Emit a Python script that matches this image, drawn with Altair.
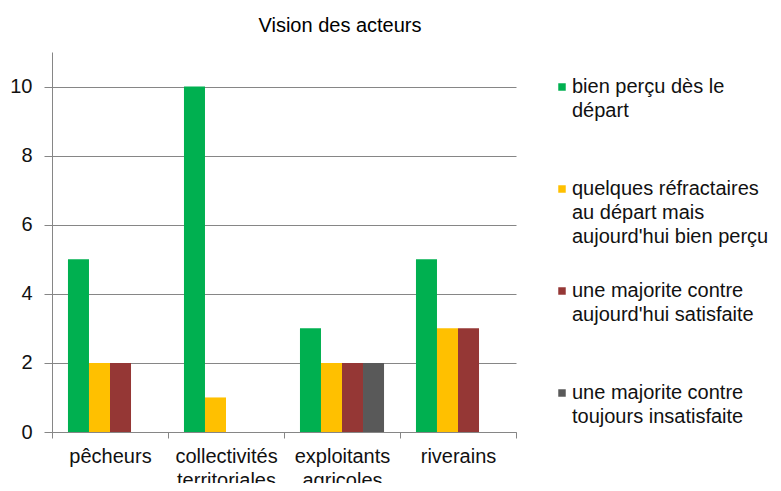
import json
import altair as alt
import pandas as pd

categories = ["pêcheurs", "collectivités territoriales", "exploitants agricoles", "riverains"]
series = [
    "bien perçu dès le départ",
    "quelques réfractaires au départ mais aujourd'hui bien perçu",
    "une majorite contre aujourd'hui satisfaite",
    "une majorite contre toujours insatisfaite",
]
series_lines = [
    ["bien perçu dès le", "départ"],
    ["quelques réfractaires", "au départ mais", "aujourd'hui bien perçu"],
    ["une majorite contre", "aujourd'hui satisfaite"],
    ["une majorite contre", "toujours insatisfaite"],
]
bien_percu = [5, 10, 3, 5]
refractaires = [2, 1, 2, 3]
contre_satisfaite = [2, 0, 2, 3]
contre_insatisfaite = [0, 0, 2, 0]
colors = ["#00B050", "#FFC000", "#953735", "#595959"]
y_ticks = [0, 2, 4, 6, 8, 10]

rows = []
for s, vals in zip(series, [bien_percu, refractaires, contre_satisfaite, contre_insatisfaite]):
    for c, v in zip(categories, vals):
        rows.append({"acteur": c, "vision": s, "valeur": v})
df = pd.DataFrame(rows)


def arr(lines):
    padded = lines + [""] * (3 - len(lines))
    return "[" + ",".join(json.dumps(l, ensure_ascii=False) for l in padded) + "]"


legend_expr = ""
for name, lines in zip(series, series_lines):
    legend_expr += f"datum.label === {json.dumps(name, ensure_ascii=False)} ? {arr(lines)} : "
legend_expr += "datum.label"

FONT = "Liberation Sans"
FS = 20
GRAY = "#868686"
TXT = "#111111"

chart = alt.Chart(df).mark_bar().encode(
    x=alt.X(
        "acteur:N",
        sort=categories,
        title=None,
        scale=alt.Scale(domain=categories, paddingInner=0, paddingOuter=0),
        axis=alt.Axis(
            labelAngle=0,
            tickBand="extent",
            labelExpr="split(datum.label, ' ')",
            labelLineHeight=24,
            labelBaseline="top",
            labelPadding=8,
            tickSize=6,
            tickColor=GRAY,
            domainColor=GRAY,
            labelFont=FONT,
            labelFontSize=FS,
            labelColor=TXT,
            grid=False,
        ),
    ),
    xOffset=alt.XOffset(
        "vision:N",
        sort=series,
        scale=alt.Scale(domain=series, paddingInner=0, paddingOuter=0.76),
    ),
    y=alt.Y(
        "valeur:Q",
        title=None,
        scale=alt.Scale(domain=[0, 11], nice=False, zero=True),
        axis=alt.Axis(
            values=y_ticks,
            tickSize=8,
            tickColor=GRAY,
            domainColor=GRAY,
            gridColor=GRAY,
            grid=True,
            labelPadding=12,
            labelFont=FONT,
            labelFontSize=FS,
            labelColor=TXT,
        ),
    ),
    color=alt.Color(
        "vision:N",
        sort=series,
        scale=alt.Scale(domain=series, range=colors),
        legend=alt.Legend(
            title=None,
            orient="none",
            legendX=500,
            legendY=25,
            symbolType="square",
            symbolSize=56,
            symbolStrokeWidth=0,
            labelExpr=legend_expr,
            labelFont=FONT,
            labelFontSize=FS,
            labelColor=TXT,
            labelLimit=400,
            labelOffset=0,
            rowPadding=34,
            padding=0,
        ),
    ),
).properties(
    width=464,
    height=380,
    title=alt.TitleParams(
        "Vision des acteurs",
        font=FONT,
        fontSize=FS,
        fontWeight="normal",
        color="#000000",
        anchor="middle",
        frame="group",
        dx=56,
        offset=16,
    ),
    padding={"left": 44, "top": 44, "right": 257, "bottom": 51},
    autosize=alt.AutoSizeParams(type="none"),
).configure(
    style={"guide-label": {"lineHeight": 24}}
).configure_view(stroke=None)

chart.save("out.html", embed_options={"renderer": "svg", "actions": False})
